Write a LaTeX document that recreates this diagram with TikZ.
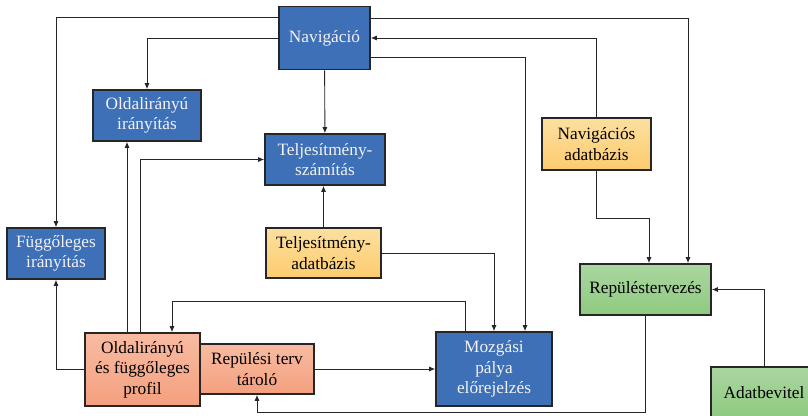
\documentclass[tikz,border=0pt]{standalone}
\usepackage{fontspec}
\setmainfont{Liberation Serif}
\usetikzlibrary{positioning,arrows.meta}

\definecolor{navblue}{RGB}{62,112,184}
\definecolor{dbtop}{RGB}{252,224,160}
\definecolor{dbbot}{RGB}{253,203,110}
\definecolor{proftop}{RGB}{248,187,162}
\definecolor{profbot}{RGB}{244,160,126}
\definecolor{plantop}{RGB}{170,214,160}
\definecolor{planbot}{RGB}{143,202,128}

\begin{document}
\begin{tikzpicture}[x=1pt, y=1pt, node distance=100pt, >={Latex[length=6pt,width=5pt]},
    every node/.style={font=\fontsize{17.3}{20.5}\selectfont, align=center, inner sep=0pt},
    bluebox/.style={rectangle, draw=black!85, line width=1.6pt, fill=navblue, text=white!95!black},
    dbbox/.style={rectangle, draw=black!85, line width=1.6pt, top color=dbtop, bottom color=dbbot},
    profbox/.style={rectangle, draw=black!85, line width=1.6pt, top color=proftop, bottom color=profbot},
    planbox/.style={rectangle, draw=black!85, line width=1.6pt, top color=plantop, bottom color=planbot},
    link/.style={->, line width=0.9pt, draw=black!85}]
    \useasboundingbox (0,0) rectangle (808,-415);
    \clip (0,0) rectangle (808,-415);

    % Navigation
    \node[bluebox, minimum width=91pt, minimum height=63pt] (nav) at (324.5,-38) {Navigáció};

    % Performance
    \node[bluebox, minimum width=120pt, minimum height=51pt, below of=nav, xshift=0.5pt, yshift=-21.5pt] (perf) {Teljesítmény-\\számítás};

    % Lateral and vertical guidance
    \node[bluebox, minimum width=108pt, minimum height=51pt, left of=nav, xshift=-77.5pt, yshift=-77.5pt] (lat) {Oldalirányú\\irányítás};
    \node[bluebox, minimum width=98pt, minimum height=51pt, below of=lat, xshift=-91pt, yshift=-38pt] (vert) {Függőleges\\irányítás};

    % Databases
    \node[dbbox, minimum width=115pt, minimum height=50pt, below of=perf, xshift=-1.5pt, yshift=6.5pt] (perfdb) {Teljesítmény-\\adatbázis};
    \node[dbbox, minimum width=109pt, minimum height=52pt, right of=perf, xshift=171.5pt, yshift=15.5pt] (navdb) {Navigációs\\adatbázis};

    % Flight plan storage and profile
    \node[profbox, minimum width=114pt, minimum height=50pt, below of=vert, xshift=201pt, yshift=-15.5pt] (store) {Repülési terv\\tároló};
    \node[profbox, minimum width=115pt, minimum height=73pt, left of=store, xshift=-14.5pt, yshift=-0.5pt] (profile) {Oldalirányú\\és függőleges\\profil};

    % Trajectory prediction
    \node[bluebox, minimum width=116pt, minimum height=74pt, right of=store, xshift=137pt] (traj) {Mozgási\\pálya\\előrejelzés};

    % Flight planning
    \node[planbox, minimum width=131pt, minimum height=51pt, below of=navdb, xshift=49pt, yshift=-45.5pt] (plan) {Repüléstervezés};
    \node[planbox, minimum width=106pt, minimum height=51pt, below of=plan, xshift=118.5pt, yshift=-3pt] (input) {Adatbevitel};

    % Arrows
    \draw[link] ([yshift=21pt]nav.west) -| (vert);
    \draw[link] (nav.west) -| (lat);
    \draw[link] (nav) -- (perf);
    \draw[link] ([yshift=20pt]nav.east) -| ([xshift=42.5pt]plan.north);
    \draw[link] (navdb) |- (nav);
    \draw[link] ([yshift=-19pt]nav.east) -| ([xshift=31pt]traj.north);
    \draw[link] ([xshift=-15.5pt]profile.north) -- ([xshift=-15.5pt]profile.north |- lat.south);
    \draw[link] ([xshift=-2.5pt]profile.north) |- (perf);
    \draw[link] (perfdb) -- (perfdb |- perf.south);
    \draw[link] (navdb.south) -- ++(0,-48) -| ([xshift=3.5pt]plan.north);
    \draw[link] (profile) -| (vert);
    \draw[link] (perfdb) -| (traj);
    \draw[link] ([xshift=-29pt]traj.north) -- ++(0,30) -| ([xshift=29.5pt]profile.north);
    \draw[link] (store) -- (traj);
    \draw[link] (plan.south) -- ++(0,-97) -| (store.south);
    \draw[link] (input) |- (plan);

\end{tikzpicture}
\end{document}
